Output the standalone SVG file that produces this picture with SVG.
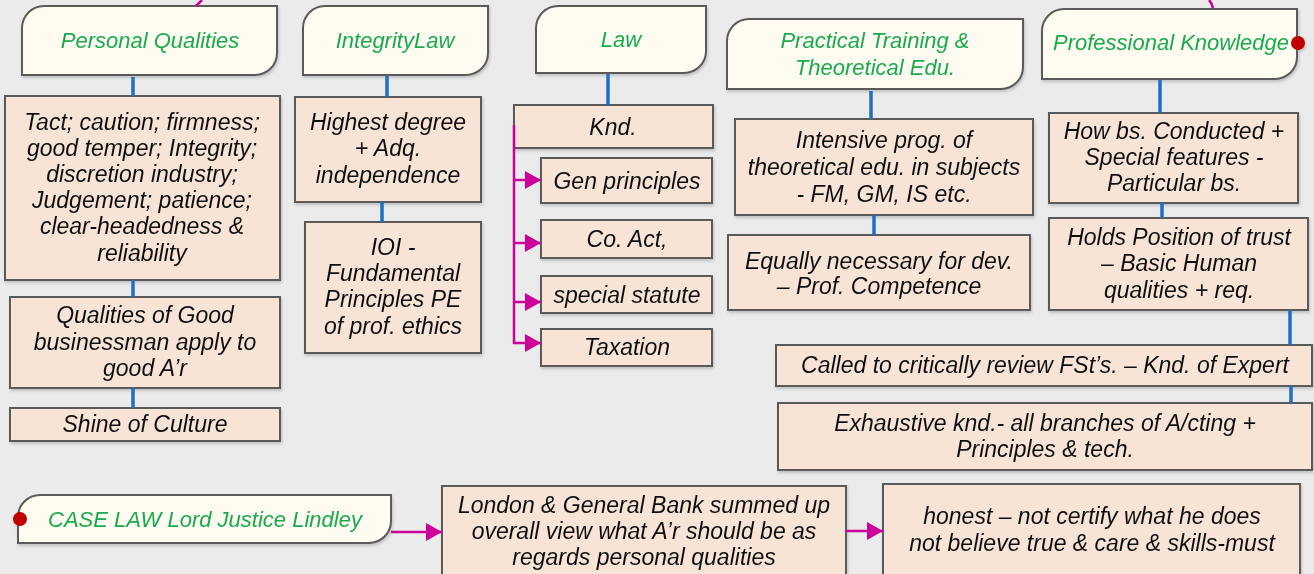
<svg xmlns="http://www.w3.org/2000/svg" width="1314" height="574" viewBox="0 0 1314 574">
<defs>
<style>
.bg{fill:#ebebeb}
.hd{fill:#fefcf1;stroke:#5a5a5a;stroke-width:2}
.bx{fill:#f7e4d7;stroke:#5a5a5a;stroke-width:2}
.ht{font-family:"Liberation Sans",Arial,sans-serif;font-style:italic;font-size:22px;fill:#1aaa50;text-anchor:middle}
.t{font-family:"Liberation Sans",Arial,sans-serif;font-style:italic;font-size:23px;fill:#111;text-anchor:middle}
.bl{stroke:#1f6fc0;stroke-width:3.5;fill:none}
.mg{stroke:#cc0099;stroke-width:2.5;fill:none}
.dot{fill:#c00000}
</style>
<marker id="ah" viewBox="0 0 16 18" refX="16" refY="9" markerWidth="16" markerHeight="18" markerUnits="userSpaceOnUse" orient="auto">
<path d="M0,0 L16,9 L0,18 Z" fill="#cc0099"/>
</marker>
<filter id="sh" x="-5%" y="-5%" width="110%" height="120%">
<feDropShadow dx="1" dy="2" stdDeviation="1.5" flood-color="#000" flood-opacity="0.18"/>
</filter>
</defs>
<rect class="bg" x="0" y="0" width="1314" height="574"/>

<g id="n-personal" filter="url(#sh)">
<path class="hd" d="M22,28 A22,22 0 0 1 44,6 H277 V53 A22,22 0 0 1 255,75 H22 Z"/>
<text class="ht" x="150" y="48">Personal Qualities</text>
</g>
<g id="n-pq1" filter="url(#sh)">
<rect class="bx" x="5" y="96" width="275" height="184"/>
<text class="t" x="142" y="130">Tact; caution; firmness;</text>
<text class="t" x="142" y="156">good temper; Integrity;</text>
<text class="t" x="142" y="182">discretion industry;</text>
<text class="t" x="142" y="208">Judgement; patience;</text>
<text class="t" x="142" y="234">clear-headedness &amp;</text>
<text class="t" x="142" y="261">reliability</text>
</g>
<g id="n-pq2" filter="url(#sh)">
<rect class="bx" x="10" y="297" width="270" height="91"/>
<text class="t" x="145" y="323">Qualities of Good</text>
<text class="t" x="145" y="350">businessman apply to</text>
<text class="t" x="145" y="376">good A’r</text>
</g>
<g id="n-pq3" filter="url(#sh)">
<rect class="bx" x="10" y="408" width="270" height="33"/>
<text class="t" x="145" y="432">Shine of Culture</text>
</g>

<g id="n-integrity" filter="url(#sh)">
<path class="hd" d="M303,28 A22,22 0 0 1 325,6 H488 V53 A22,22 0 0 1 466,75 H303 Z"/>
<text class="ht" x="395" y="48">IntegrityLaw</text>
</g>
<g id="n-il1" filter="url(#sh)">
<rect class="bx" x="295" y="97" width="186" height="105"/>
<text class="t" x="388" y="130">Highest degree</text>
<text class="t" x="388" y="156">+ Adq.</text>
<text class="t" x="388" y="183">independence</text>
</g>
<g id="n-il2" filter="url(#sh)">
<rect class="bx" x="305" y="222" width="176" height="131"/>
<text class="t" x="393" y="255">IOI -</text>
<text class="t" x="393" y="281">Fundamental</text>
<text class="t" x="393" y="307">Principles PE</text>
<text class="t" x="393" y="334">of prof. ethics</text>
</g>

<g id="n-law" filter="url(#sh)">
<path class="hd" d="M536,28 A22,22 0 0 1 558,6 H706 V51 A22,22 0 0 1 684,73 H536 Z"/>
<text class="ht" x="621" y="47">Law</text>
</g>
<g id="n-knd" filter="url(#sh)">
<rect class="bx" x="514" y="105" width="199" height="43"/>
<text class="t" x="613" y="135">Knd.</text>
</g>
<g id="n-gen" filter="url(#sh)">
<rect class="bx" x="541" y="158" width="171" height="45"/>
<text class="t" x="627" y="189">Gen principles</text>
</g>
<g id="n-coact" filter="url(#sh)">
<rect class="bx" x="541" y="220" width="171" height="38"/>
<text class="t" x="627" y="247">Co. Act,</text>
</g>
<g id="n-special" filter="url(#sh)">
<rect class="bx" x="541" y="276" width="171" height="37"/>
<text class="t" x="627" y="303">special statute</text>
</g>
<g id="n-tax" filter="url(#sh)">
<rect class="bx" x="541" y="329" width="171" height="37"/>
<text class="t" x="627" y="355">Taxation</text>
</g>

<g id="n-practical" filter="url(#sh)">
<path class="hd" d="M727,41 A22,22 0 0 1 749,19 H1023 V67 A22,22 0 0 1 1001,89 H727 Z"/>
<text class="ht" x="875" y="48">Practical Training &amp;</text>
<text class="ht" x="875" y="75">Theoretical Edu.</text>
</g>
<g id="n-pt1" filter="url(#sh)">
<rect class="bx" x="735" y="119" width="298" height="96"/>
<text class="t" x="884" y="148">Intensive prog. of</text>
<text class="t" x="884" y="175">theoretical edu. in subjects</text>
<text class="t" x="884" y="202">- FM, GM, IS etc.</text>
</g>
<g id="n-pt2" filter="url(#sh)">
<rect class="bx" x="728" y="235" width="302" height="75"/>
<text class="t" x="879" y="269">Equally necessary for dev.</text>
<text class="t" x="879" y="294">– Prof. Competence</text>
</g>

<g id="n-professional" filter="url(#sh)">
<path class="hd" d="M1042,31 A22,22 0 0 1 1064,9 H1297 V57 A22,22 0 0 1 1275,79 H1042 Z"/>
<text class="ht" x="1171" y="50">Professional Knowledge</text>
<circle class="dot" cx="1298" cy="43" r="7"/>
</g>
<g id="n-pk1" filter="url(#sh)">
<rect class="bx" x="1049" y="113" width="249" height="90"/>
<text class="t" x="1174" y="139">How bs. Conducted +</text>
<text class="t" x="1174" y="165">Special features -</text>
<text class="t" x="1174" y="191">Particular bs.</text>
</g>
<g id="n-pk2" filter="url(#sh)">
<rect class="bx" x="1049" y="218" width="259" height="92"/>
<text class="t" x="1179" y="245">Holds Position of trust</text>
<text class="t" x="1179" y="271">– Basic Human</text>
<text class="t" x="1179" y="298">qualities + req.</text>
</g>
<g id="n-pk3" filter="url(#sh)">
<rect class="bx" x="776" y="345" width="536" height="41"/>
<text class="t" x="1045" y="373">Called to critically review FSt’s. – Knd. of Expert</text>
</g>
<g id="n-pk4" filter="url(#sh)">
<rect class="bx" x="778" y="403" width="534" height="67"/>
<text class="t" x="1045" y="431">Exhaustive knd.- all branches of A/cting +</text>
<text class="t" x="1045" y="457">Principles &amp; tech.</text>
</g>

<g id="n-caselaw" filter="url(#sh)">
<path class="hd" d="M18,517 A22,22 0 0 1 40,495 H391 V521 A22,22 0 0 1 369,543 H18 Z"/>
<text class="ht" x="205" y="527">CASE LAW Lord Justice Lindley</text>
<circle class="dot" cx="20" cy="519" r="7"/>
</g>
<g id="n-london" filter="url(#sh)">
<rect class="bx" x="442" y="486" width="404" height="100"/>
<text class="t" x="644" y="513">London &amp; General Bank summed up</text>
<text class="t" x="644" y="539">overall view what A’r should be as</text>
<text class="t" x="644" y="565">regards personal qualities</text>
</g>
<g id="n-honest" filter="url(#sh)">
<rect class="bx" x="883" y="484" width="417" height="100"/>
<text class="t" x="1092" y="524">honest – not certify what he does</text>
<text class="t" x="1092" y="551">not believe true &amp; care &amp; skills-must</text>
</g>

<g id="connectors">
<path class="bl" d="M133,77 V96"/>
<path class="bl" d="M133,280 V297"/>
<path class="bl" d="M133,388 V408"/>
<path class="bl" d="M387,76 V97"/>
<path class="bl" d="M382,202 V222"/>
<path class="bl" d="M608,74 V105"/>
<path class="bl" d="M871,91 V119"/>
<path class="bl" d="M874,215 V235"/>
<path class="bl" d="M1160,80 V113"/>
<path class="bl" d="M1162,203 V218"/>
<path class="bl" d="M1290,310 V345"/>
<path class="bl" d="M1291,386 V403"/>
<path class="mg" d="M514,125 V343 H541" marker-end="url(#ah)"/>
<path class="mg" d="M514,180 H541" marker-end="url(#ah)"/>
<path class="mg" d="M514,243 H541" marker-end="url(#ah)"/>
<path class="mg" d="M514,302 H541" marker-end="url(#ah)"/>
<path class="mg" d="M391,532 H442" marker-end="url(#ah)"/>
<path class="mg" d="M846,531 H883" marker-end="url(#ah)"/>
<path class="mg" d="M196,6 Q199,3 202,0" stroke-width="1.5"/>
<path class="mg" d="M1213,8 Q1212,3 1209,0" stroke-width="1.5"/>
</g>
</svg>
